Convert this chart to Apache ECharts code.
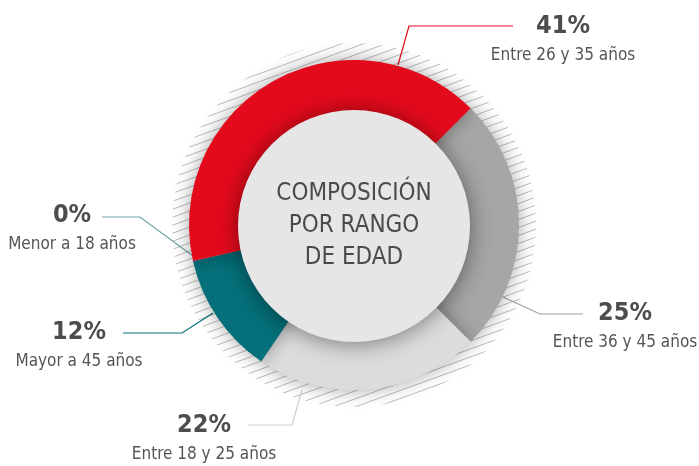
<!DOCTYPE html>
<html lang="es">
<head>
    <meta charset="UTF-8">
    <title>Composición por rango de edad</title>
    <script src="https://cdn.jsdelivr.net/npm/echarts@6/dist/echarts.min.js"></script>
    <style>
        html, body { margin: 0; padding: 0; background: #fff; }
        #main { width: 699px; height: 466px; }
    </style>
</head>
<body>
    <div id="main"></div>
    <script type="text/javascript">
        // datos (orden de dibujo, en sentido horario desde arriba a la derecha)
        var categories = ['Entre 36 y 45 años', 'Entre 18 y 25 años', 'Mayor a 45 años', 'Menor a 18 años', 'Entre 26 y 35 años'];
        var values = [25, 22, 12, 0, 41];
        var percentLabels = ['25%', '22%', '12%', '0%', '41%'];
        var centerTitle = 'COMPOSICIÓN\nPOR RANGO\nDE EDAD';

        var colors = ['#a6a6a6', '#dcdcdc', '#05707a', '#6fa2a7', '#e30a1c'];
        var lineColors = ['#a0a0a0', '#cfcfcf', '#05707a', '#6fa2a7', '#e30a1c'];
        var font = "'Liberation Sans Narrow', 'DejaVu Sans Condensed', 'Noto Sans', sans-serif";

        // posicion de etiquetas y lineas guia
        var labelPos = [
            { x: 625, y: 328, line: [[503, 297], [540, 314], [583, 314]] },
            { x: 204, y: 440, line: [[302, 390], [292, 425], [248, 425]] },
            { x: 79, y: 347, line: [[213, 313], [182, 333], [123, 333]] },
            { x: 72, y: 230, line: [[193, 256], [140, 217], [102, 217]] },
            { x: 563, y: 41, line: [[398, 65], [409, 26], [513, 26]] }
        ];

        // patron rayado para la sombra exterior
        function hatchPattern() {
            var c = document.createElement('canvas');
            c.width = 22;
            c.height = 8;
            var ctx = c.getContext('2d');
            ctx.fillStyle = '#ffffff';
            ctx.fillRect(0, 0, 22, 8);
            ctx.strokeStyle = '#bdbdbd';
            ctx.lineWidth = 1;
            for (var k = -1; k <= 1; k++) {
                ctx.beginPath();
                ctx.moveTo(0, 8 + k * 8);
                ctx.lineTo(22, 0 + k * 8);
                ctx.stroke();
            }
            return c;
        }

        var center = [354, 225];

        var ringData = values.map(function (v, i) {
            return {
                name: categories[i],
                value: v,
                itemStyle: { color: colors[i] },
                labelLine: { lineStyle: { color: lineColors[i], width: 1.2 } },
                label: {
                    formatter: '{p|' + percentLabels[i] + '}\n{s|' + categories[i] + '}'
                }
            };
        });

        var option = {
            backgroundColor: '#ffffff',
            animation: false,
            series: [
                {
                    type: 'pie',
                    silent: true,
                    center: center,
                    radius: [0, 182],
                    z: 1,
                    label: { show: false },
                    labelLine: { show: false },
                    itemStyle: { color: { image: hatchPattern(), repeat: 'repeat' } },
                    data: [1]
                },
                {
                    type: 'pie',
                    silent: true,
                    center: center,
                    radius: [100, 165],
                    startAngle: 45,
                    clockwise: true,
                    z: 2,
                    itemStyle: {
                        shadowBlur: 18,
                        shadowColor: 'rgba(0,0,0,0.35)'
                    },
                    label: {
                        show: true,
                        position: 'outside',
                        overflow: 'none',
                        fontFamily: font,
                        rich: {
                            p: { fontSize: 25, fontWeight: 'bold', color: '#4d4d4d', lineHeight: 30, fontFamily: font, align: 'center' },
                            s: { fontSize: 17, color: '#555555', lineHeight: 30, fontFamily: font, align: 'center' }
                        }
                    },
                    labelLine: { show: true },
                    labelLayout: function (params) {
                        var p = labelPos[params.dataIndex];
                        return {
                            x: p.x,
                            y: p.y,
                            align: 'center',
                            verticalAlign: 'middle',
                            labelLinePoints: p.line
                        };
                    },
                    data: ringData
                },
                {
                    type: 'pie',
                    silent: true,
                    center: [354, 226],
                    radius: [0, 116],
                    z: 3,
                    itemStyle: {
                        color: '#e6e6e6',
                        shadowBlur: 22,
                        shadowColor: 'rgba(0,0,0,0.45)',
                        shadowOffsetY: 2
                    },
                    label: {
                        show: true,
                        position: 'center',
                        formatter: centerTitle,
                        fontFamily: font,
                        fontSize: 24,
                        lineHeight: 32,
                        color: '#4a4a4a'
                    },
                    labelLine: { show: false },
                    data: [1]
                }
            ]
        };

        var myChart = echarts.init(document.getElementById('main'));
        myChart.setOption(option);
    </script>
</body>
</html>
